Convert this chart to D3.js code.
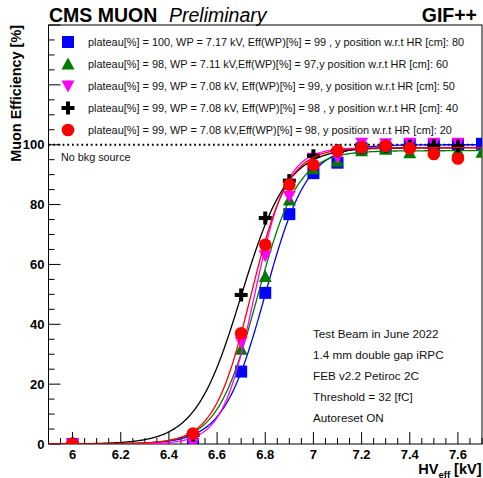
<!DOCTYPE html>
<html>
<head>
<meta charset="utf-8">
<script src="https://cdn.jsdelivr.net/npm/d3@7"></script>
<style>
  body { margin: 0; background: #fff; }
  svg { display: block; font-family: "Liberation Sans", Arial, Helvetica, sans-serif; }
</style>
</head>
<body>
<div id="chart"></div>
<script>
// HV points (kV) and measured efficiencies [%]
const hv = [6.0, 6.5, 6.7, 6.8, 6.9, 7.0, 7.1, 7.2, 7.3, 7.4, 7.5, 7.6, 7.7];
const eff80 = [0, 0, 24.2, 50.5, 76.8, 90.5, 94.0, 98.8, 99.0, 100.0, 99.8, 100.2, 100.3];
const eff60 = [0, 0, 31.7, 56.0, 81.5, 92.0, 94.5, 98.0, 98.5, 97.3, 98.0, 98.0, 97.5];
const eff50 = [0, 0, 34.0, 62.9, 82.7, 95.5, 95.8, 100.5, 100.3, 100.5, 100.5, 100.5, null];
const eff40 = [0, 3.0, 49.8, 75.5, 88.0, 96.3, 98.0, 99.0, 99.5, 99.5, 99.7, 99.5, null];
const eff20 = [0, 3.5, 37.0, 66.6, 86.6, 93.2, 98.0, 99.1, 99.6, 98.8, 96.9, 95.4, null];

// sigmoid fit parameters: plateau, slope (1/kV), HV50 (kV)
const fitPlateau = [100, 98, 99, 99, 99];
const fitSlope   = [11.5, 12.0, 15.0, 10.5, 13.0];
const fitHV50    = [6.800, 6.767, 6.755, 6.700, 6.740];

const legendLabels = [
    "plateau[%] = 100, WP = 7.17 kV, Eff(WP)[%] = 99 , y position w.r.t HR [cm]: 80",
    "plateau[%] = 98, WP = 7.11 kV,Eff(WP)[%] = 97,y position w.r.t HR [cm]: 60",
    "plateau[%] = 99, WP = 7.08 kV, Eff(WP)[%] = 99, y position w.r.t HR [cm]: 50",
    "plateau[%] = 99, WP = 7.08 kV, Eff(WP)[%] = 98 , y position w.r.t HR [cm]: 40",
    "plateau[%] = 99, WP = 7.08 kV,Eff(WP)[%] = 98, y position w.r.t HR [cm]: 20"
];
const infoLines = ["Test Beam in June 2022", "1.4 mm double gap iRPC", "FEB v2.2 Petiroc 2C", "Threshold = 32 [fC]", "Autoreset ON"];
const xTickLabels = [6, 6.2, 6.4, 6.6, 6.8, 7, 7.2, 7.4, 7.6];
const yTickLabels = [0, 20, 40, 60, 80, 100];

const seriesValues = [eff80, eff60, eff50, eff40, eff20];
const colors = ["#0000ff", "#007a00", "#ff00ff", "#000000", "#ff0000"];
const markers = ["square", "triUp", "triDown", "cross", "circle"];

const W = 483, H = 478;
const frame = { left: 48.5, right: 482, top: 25, bottom: 444 };

const svg = d3.select("#chart").append("svg").attr("width", W).attr("height", H);

const x = d3.scaleLinear().domain([5.9, 7.7]).range([frame.left, frame.right]);
const y = d3.scaleLinear().domain([0, 140]).range([frame.bottom, frame.top]);

svg.append("defs").append("clipPath").attr("id", "frame-clip")
    .append("rect").attr("x", frame.left).attr("y", frame.top)
    .attr("width", frame.right - frame.left).attr("height", frame.bottom - frame.top);

// frame
svg.append("rect").attr("x", frame.left).attr("y", frame.top)
    .attr("width", frame.right - frame.left).attr("height", frame.bottom - frame.top)
    .attr("fill", "none").attr("stroke", "#000").attr("stroke-width", 1);

// x axis ticks (inside, pointing up)
const xMinor = d3.range(0, 37).map(i => 5.9 + i * 0.05).filter(v => v <= 7.7001);
svg.append("g").selectAll("line").data(xMinor).join("line")
    .attr("x1", d => x(d)).attr("x2", d => x(d))
    .attr("y1", frame.bottom)
    .attr("y2", d => frame.bottom - (Math.abs(Math.round(d * 5) - d * 5) < 1e-6 ? 12 : 6))
    .attr("stroke", "#000").attr("stroke-width", 1);
svg.append("g").selectAll("text").data(xTickLabels).join("text")
    .attr("x", d => x(d)).attr("y", 458.5)
    .attr("text-anchor", "middle").style("font-size", "13px").style("font-weight", "700")
    .text(d => d);

// y axis ticks (inside, pointing right)
const yMinor = d3.range(0, 141, 5);
svg.append("g").selectAll("line").data(yMinor).join("line")
    .attr("x1", frame.left).attr("x2", d => frame.left + (d % 20 === 0 ? 12 : 6))
    .attr("y1", d => y(d)).attr("y2", d => y(d))
    .attr("stroke", "#000").attr("stroke-width", 1);
svg.append("g").selectAll("text").data(yTickLabels).join("text")
    .attr("x", 44.5).attr("y", d => y(d)).attr("dy", "0.36em")
    .attr("text-anchor", "end").style("font-size", "13px").style("font-weight", "700")
    .text(d => d);

// axis titles
svg.append("text").attr("transform", "rotate(-90)").attr("x", -frame.top).attr("y", 20.5)
    .attr("text-anchor", "end").style("font-size", "14.4px").style("font-weight", "700")
    .text("Muon Efficiency [%]");
const xt = svg.append("text").attr("x", 481.5).attr("y", 474).attr("text-anchor", "end")
    .style("font-weight", "700");
xt.append("tspan").style("font-size", "14.5px").text("HV");
xt.append("tspan").attr("dy", 3.5).style("font-size", "9.5px").text("eff");
xt.append("tspan").attr("dy", -3.5).style("font-size", "14.5px").text(" [kV]");

// header
svg.append("text").attr("x", 49).attr("y", 22).style("font-size", "19.5px").style("font-weight", "700").text("CMS MUON");
svg.append("text").attr("x", 169).attr("y", 22).style("font-size", "19.5px").style("font-style", "italic").text("Preliminary");
svg.append("text").attr("x", 477).attr("y", 22).attr("text-anchor", "end").style("font-size", "19.5px").style("font-weight", "700").text("GIF++");

// 100% reference line
svg.append("line").attr("x1", frame.left).attr("x2", frame.right).attr("y1", y(100)).attr("y2", y(100))
    .attr("stroke", "#000").attr("stroke-width", 2).attr("stroke-dasharray", "1.8,2.9");
svg.append("text").attr("x", 61).attr("y", 160.5).style("font-size", "10.8px").attr("fill", "#111").text("No bkg source");

// info block
svg.append("g").selectAll("text").data(infoLines).join("text")
    .attr("x", 313).attr("y", (d, i) => 337.5 + i * 21)
    .style("font-size", "11.7px").attr("fill", "#111").text(d => d);

function drawMarker(g, type, cx, cy, color) {
    const s = 6;
    if (type === "square") {
        g.append("rect").attr("x", cx - s).attr("y", cy - s).attr("width", 2 * s).attr("height", 2 * s).attr("fill", color);
    } else if (type === "circle") {
        g.append("circle").attr("cx", cx).attr("cy", cy).attr("r", 6.3).attr("fill", color);
    } else if (type === "triUp") {
        g.append("path").attr("d", `M${cx},${cy - 6.5}L${cx + 6.5},${cy + 5.5}L${cx - 6.5},${cy + 5.5}Z`).attr("fill", color);
    } else if (type === "triDown") {
        g.append("path").attr("d", `M${cx},${cy + 6.5}L${cx + 6.5},${cy - 5.5}L${cx - 6.5},${cy - 5.5}Z`).attr("fill", color);
    } else if (type === "cross") {
        g.append("rect").attr("x", cx - 6.5).attr("y", cy - 2).attr("width", 13).attr("height", 4).attr("fill", color);
        g.append("rect").attr("x", cx - 2).attr("y", cy - 6.5).attr("width", 4).attr("height", 13).attr("fill", color);
    }
}

// fit curves + points, drawn series by series
const plot = svg.append("g").attr("clip-path", "url(#frame-clip)");
const grid = d3.range(5.9, 7.7005, 0.005);
seriesValues.forEach((vals, k) => {
    const fit = v => fitPlateau[k] / (1 + Math.exp(-fitSlope[k] * (v - fitHV50[k])));
    plot.append("path").datum(grid)
        .attr("d", d3.line().x(v => x(v)).y(v => y(fit(v))))
        .attr("fill", "none").attr("stroke", colors[k]).attr("stroke-width", 1.3);
    const g = plot.append("g");
    hv.forEach((v, i) => {
        if (vals[i] == null) return;
        drawMarker(g, markers[k], x(v), y(vals[i]), colors[k]);
    });
});

// legend
const leg = svg.append("g");
legendLabels.forEach((label, k) => {
    const ly = 42 + k * 22;
    drawMarker(leg, markers[k], 68, ly, colors[k]);
    leg.append("text").attr("x", 88).attr("y", ly + 3.8).style("font-size", "10.9px").attr("fill", "#111").text(label);
});
</script>
</body>
</html>
